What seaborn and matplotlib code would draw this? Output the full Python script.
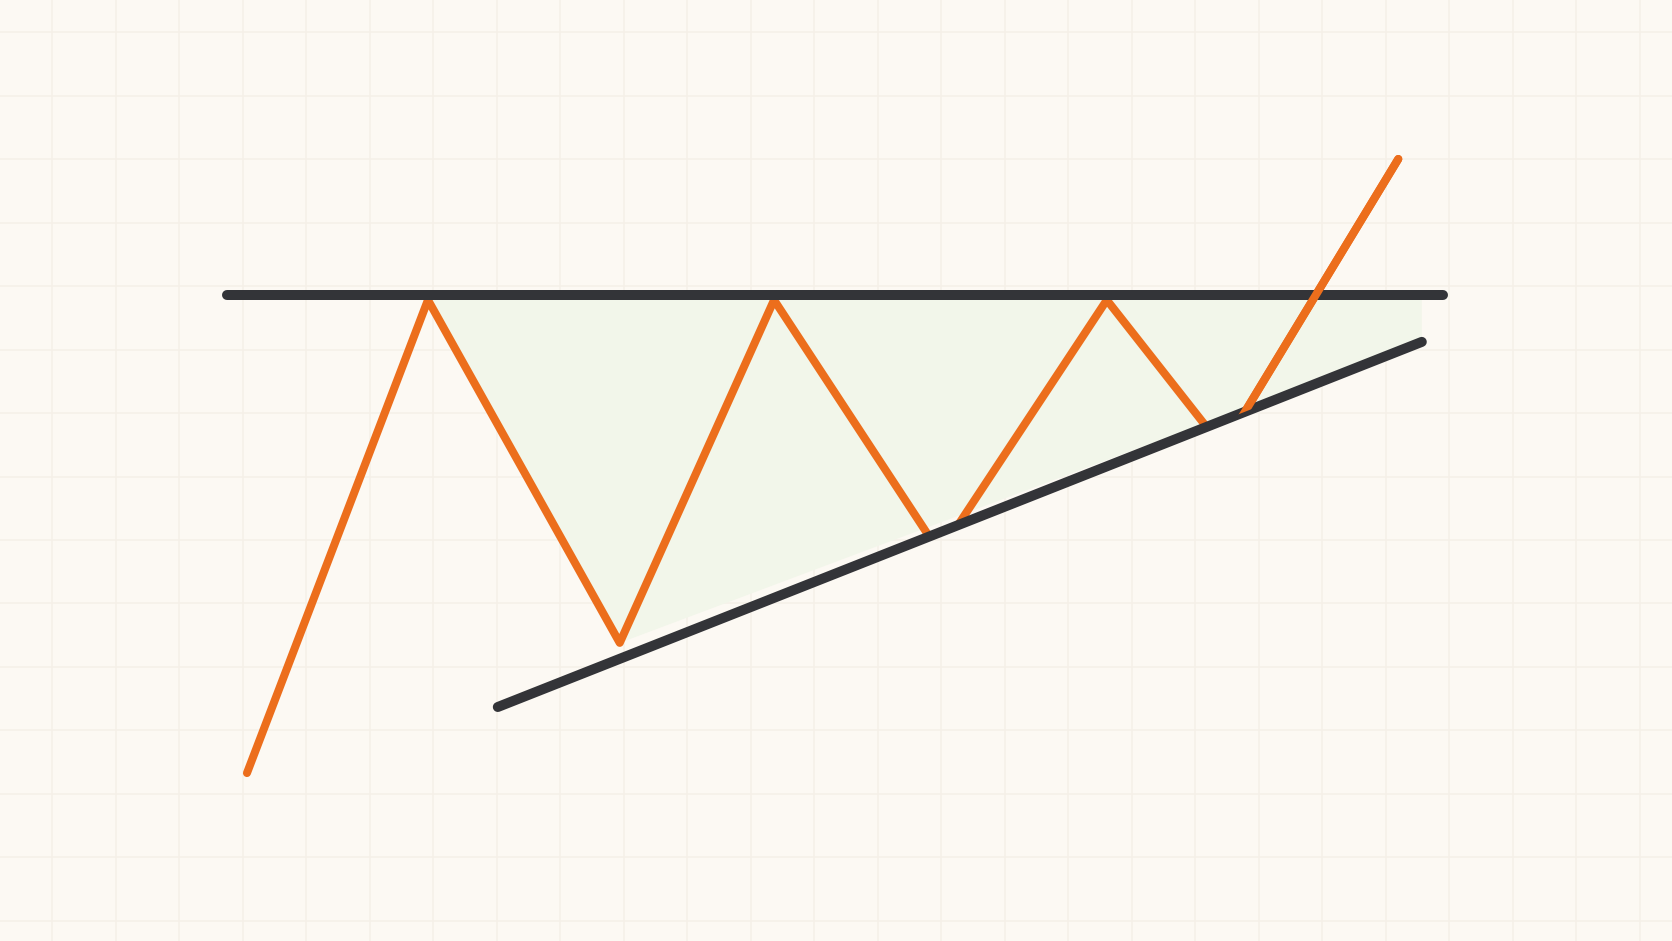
import numpy as np
import pandas as pd
import matplotlib
matplotlib.use("Agg")
import matplotlib.pyplot as plt
from matplotlib.patches import Polygon
import seaborn as sns

# price path (zigzag) of the ascending triangle
bar = [3.07, 5.92, 8.94, 11.37, 13.98, 16.61, 18.44, 21.20]
price = [2.33, 9.78, 4.38, 9.78, 5.80, 9.78, 7.45, 12.00]

# flat resistance line
resist_x = [2.76, 21.90]
resist_y = [9.86, 9.86]

# rising support line
support_x = [7.02, 21.57]
support_y = [3.37, 9.12]

BG = "#fcf9f3"
GRID = "#f5f0e8"
ORANGE = "#ec6e1c"
DARK = "#333438"
FILL = "#f2f6ea"

sns.set_style("white", {"axes.facecolor": BG, "figure.facecolor": BG})

fig = plt.figure(figsize=(16.72, 9.41), dpi=100)
ax = fig.add_axes([0, 0, 1, 1])
ax.set_xlim(-0.819, 25.51)
ax.set_ylim(-0.315, 14.504)

# faint grid paper
ax.set_xticks(np.arange(0, 26))
ax.set_yticks(np.arange(0, 15))
ax.grid(True, color=GRID, linewidth=1.1)
ax.set_axisbelow(True)
ax.tick_params(length=0, labelbottom=False, labelleft=False)
for s in ax.spines.values():
    s.set_visible(False)

# shaded triangle region
ax.fill([bar[1], support_x[1], support_x[1], bar[2]],
        [resist_y[0], resist_y[0], support_y[1], price[2]],
        color=FILL, zorder=1, linewidth=0)

df = pd.DataFrame({"bar": bar, "price": price})
sns.lineplot(data=df, x="bar", y="price", sort=False, color=ORANGE,
             linewidth=5.8, ax=ax, zorder=2)
path_line = ax.lines[-1]
path_line.set_solid_capstyle("round")
path_line.set_solid_joinstyle("round")

# hide the zigzag below the support trendline
slope = (support_y[1] - support_y[0]) / (support_x[1] - support_x[0])
x0, x1 = ax.get_xlim()
y0, y1 = ax.get_ylim()
clip = Polygon([(x0, support_y[0] + slope * (x0 - support_x[0])),
                (x1, support_y[0] + slope * (x1 - support_x[0])),
                (x1, y1), (x0, y1)], closed=True, transform=ax.transData)
path_line.set_clip_path(clip)

sns.lineplot(x=resist_x, y=resist_y, color=DARK, linewidth=7.2, ax=ax, zorder=3)
ax.lines[-1].set_solid_capstyle("round")
sns.lineplot(x=support_x, y=support_y, color=DARK, linewidth=7.2, ax=ax, zorder=3)
ax.lines[-1].set_solid_capstyle("round")

# breakout leg crosses over the resistance line
brk = df.iloc[-2:]
sns.lineplot(data=brk, x="bar", y="price", sort=False, color=ORANGE,
             linewidth=5.8, ax=ax, zorder=4)
ax.lines[-1].set_solid_capstyle("round")
ax.lines[-1].set_clip_path(clip)

ax.set_xlabel("")
ax.set_ylabel("")
fig.savefig("out.png", dpi=100, facecolor=BG)
